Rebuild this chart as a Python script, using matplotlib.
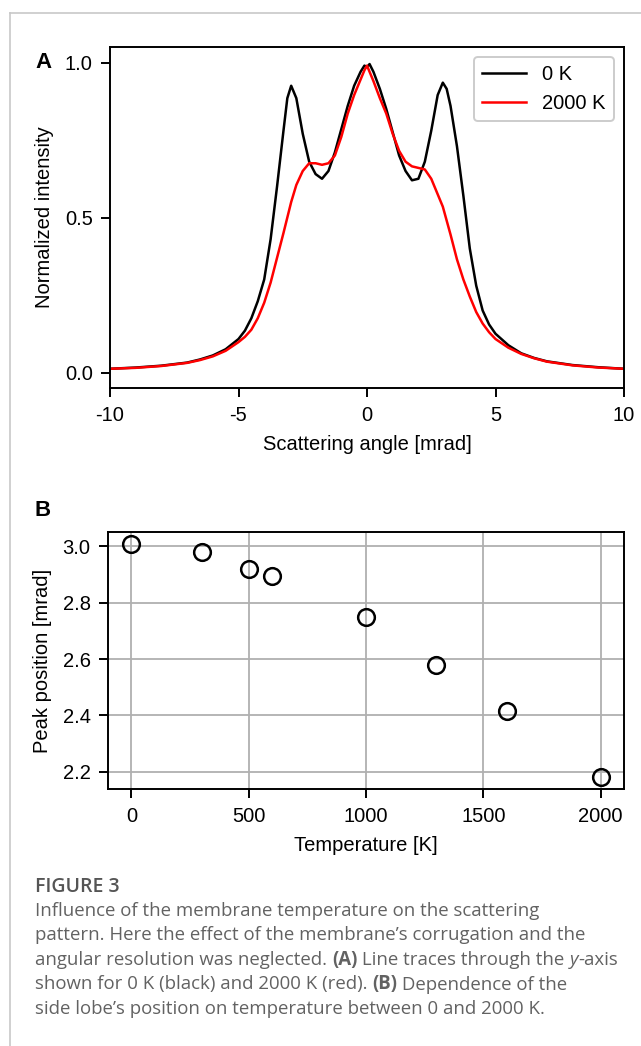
"""
plot.py - Figure 3: membrane temperature vs. scattering pattern.

(A) line traces through the y-axis for 0 K and 2000 K
(B) side lobe position as a function of temperature
"""

import matplotlib
matplotlib.use("Agg")
import matplotlib.pyplot as plt
from matplotlib.lines import Line2D
from matplotlib.transforms import IdentityTransform

# ── Data ────────────────────────────────────────────────────────────────────
angle_mrad = [
    -10, -9, -8, -7, -6.5, -6, -5.5, -5, -4.75, -4.5, -4.25, -4, -3.75, -3.5,
    -3.25, -3.1, -2.95, -2.75, -2.5, -2.25, -2, -1.75, -1.5, -1.25, -1, -0.75,
    -0.5, -0.25, -0.1, 0, 0.1, 0.25, 0.5, 0.75, 1, 1.25, 1.5, 1.75, 2, 2.25,
    2.5, 2.75, 2.95, 3.1, 3.25, 3.5, 3.75, 4, 4.25, 4.5, 4.75, 5, 5.5, 6, 6.5,
    7, 8, 9, 10,
]
intensity_0k = [
    0.012, 0.016, 0.022, 0.032, 0.042, 0.055, 0.075, 0.108, 0.135, 0.175,
    0.23, 0.30, 0.43, 0.60, 0.78, 0.885, 0.925, 0.885, 0.77, 0.68, 0.64,
    0.625, 0.65, 0.71, 0.785, 0.86, 0.925, 0.97, 0.99, 0.985, 0.995, 0.97,
    0.915, 0.85, 0.775, 0.70, 0.65, 0.62, 0.625, 0.68, 0.78, 0.895, 0.935,
    0.915, 0.86, 0.73, 0.57, 0.40, 0.28, 0.20, 0.155, 0.125, 0.088, 0.062,
    0.047, 0.036, 0.024, 0.017, 0.012,
]
intensity_2000k = [
    0.012, 0.015, 0.021, 0.031, 0.040, 0.052, 0.070, 0.098, 0.115, 0.138,
    0.175, 0.225, 0.29, 0.37, 0.45, 0.50, 0.55, 0.605, 0.65, 0.675, 0.675,
    0.67, 0.675, 0.70, 0.76, 0.835, 0.895, 0.945, 0.975, 0.99, 0.97, 0.94,
    0.885, 0.835, 0.77, 0.715, 0.68, 0.665, 0.66, 0.655, 0.625, 0.575, 0.535,
    0.49, 0.445, 0.365, 0.30, 0.245, 0.195, 0.158, 0.13, 0.108, 0.08, 0.06,
    0.046, 0.035, 0.023, 0.016, 0.012,
]

temperature_K = [0, 300, 500, 600, 1000, 1300, 1600, 2000]
peak_position_mrad = [3.01, 2.98, 2.92, 2.895, 2.75, 2.58, 2.415, 2.18]

caption_title = "FIGURE 3"
caption_lines = [
    [("Influence of the membrane temperature on the scattering", "normal")],
    [("pattern. Here the effect of the membrane\u2019s corrugation and the", "normal")],
    [("angular resolution was neglected. ", "normal"), ("(A)", "bold"),
     (" Line traces through the ", "normal"), ("y", "italic"), ("-axis", "normal")],
    [("shown for 0 K (black) and 2000 K (red). ", "normal"), ("(B)", "bold"),
     (" Dependence of the", "normal")],
    [("side lobe\u2019s position on temperature between 0 and 2000 K.", "normal")],
]

# ── Style ───────────────────────────────────────────────────────────────────
W, H, DPI = 641, 1046, 100
FS = 14.5
plt.rcParams.update({
    "font.family": ["Liberation Sans", "DejaVu Sans"],
    "axes.unicode_minus": False,
    "font.size": FS,
    "axes.linewidth": 1.4,
    "xtick.major.size": 6.5, "ytick.major.size": 6.5,
    "xtick.major.width": 1.4, "ytick.major.width": 1.4,
    "xtick.major.pad": 6.5, "ytick.major.pad": 6.0,
    "axes.labelpad": 7.5,
    "legend.edgecolor": "0.8",
})
CAPTION_FONT = ["Open Sans", "DejaVu Sans"]
CAPTION_COLOR = "#626262"


def px_axes(fig, left, top, right, bottom):
    """Add axes from pixel edges (origin top-left)."""
    return fig.add_axes([left / W, 1 - bottom / H, (right - left) / W,
                         (bottom - top) / H])


def rich_line(fig, x, y, parts, size):
    """Draw one caption line made of differently styled pieces (pixel coords)."""
    renderer = fig.canvas.get_renderer()
    for text, style in parts:
        kw = dict(fontsize=size, family=CAPTION_FONT, color=CAPTION_COLOR,
                  va="baseline", ha="left", transform=IdentityTransform())
        if style == "bold":
            kw["weight"] = "bold"
        elif style == "italic":
            kw["style"] = "italic"
        fig.text(x, y, text, **kw)
        # advance = width(text + '|') - width('|') so spaces are counted
        probe = fig.text(0, 0, text + "|", **kw)
        bar = fig.text(0, 0, "|", **kw)
        x += (probe.get_window_extent(renderer).width
              - bar.get_window_extent(renderer).width)
        probe.remove()
        bar.remove()


fig = plt.figure(figsize=(W / DPI, H / DPI), dpi=DPI)

# page frame (grey lines at top and left)
fig.add_artist(Line2D([10 / W, 1], [1 - 13 / H] * 2, color="#c8c8c8", lw=1.2))
fig.add_artist(Line2D([10 / W] * 2, [0, 1 - 13 / H], color="#c8c8c8", lw=1.2))

# ── Panel A ─────────────────────────────────────────────────────────────────
ax_a = px_axes(fig, 110, 47, 624, 388)
ax_a.plot(angle_mrad, intensity_0k, color="black", lw=1.8, label="0 K")
ax_a.plot(angle_mrad, intensity_2000k, color="red", lw=1.8, label="2000 K")
ax_a.set_xlim(-10, 10)
ax_a.set_ylim(-0.05, 1.05)
ax_a.set_xticks([-10, -5, 0, 5, 10])
ax_a.set_yticks([0.0, 0.5, 1.0])
ax_a.set_xlabel("Scattering angle [mrad]")
ax_a.set_ylabel("Normalized intensity")
ax_a.legend(loc="upper right", fontsize=FS, handlelength=2.2,
            frameon=True, framealpha=1.0).get_frame().set_linewidth(1.4)
fig.text(35 / W, 1 - 63 / H, "A", fontsize=16, weight="bold", va="center")

# ── Panel B ─────────────────────────────────────────────────────────────────
ax_b = px_axes(fig, 108, 532, 624, 789)
ax_b.plot(temperature_K, peak_position_mrad, "o", ms=12, mfc="none",
          mec="black", mew=1.8, zorder=3)
ax_b.grid(True, color="#b0b0b0", lw=1.3)
ax_b.set_axisbelow(True)
ax_b.set_xticks([0, 500, 1000, 1500, 2000])
ax_b.set_yticks([2.2, 2.4, 2.6, 2.8, 3.0])
ax_b.set_xlabel("Temperature [K]")
ax_b.set_ylabel("Peak position [mrad]")
fig.text(35 / W, 1 - 511 / H, "B", fontsize=16, weight="bold", va="center")

# ── Caption ─────────────────────────────────────────────────────────────────
fig.text(35, H - 892, caption_title, fontsize=14, weight="semibold",
         family=CAPTION_FONT, color="#555555", va="baseline",
         transform=IdentityTransform())
for i, parts in enumerate(caption_lines):
    rich_line(fig, 35, H - (916 + 24.5 * i), parts, size=13.4)

fig.savefig("out.png", dpi=DPI)
